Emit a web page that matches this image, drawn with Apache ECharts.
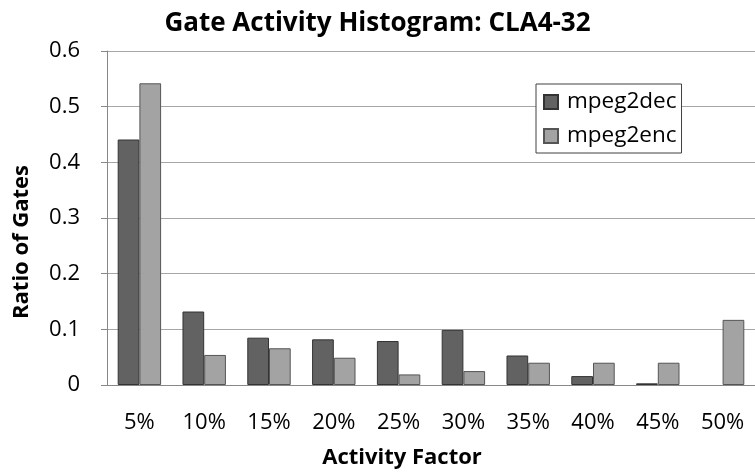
<!DOCTYPE html>
<html>
<head>
<meta charset="utf-8">
<script src="https://cdn.jsdelivr.net/npm/echarts@6/dist/echarts.min.js"></script>
<style>
  html, body { margin: 0; padding: 0; background: #fff; }
  #chart { width: 755px; height: 474px; }
</style>
</head>
<body>
<div id="chart"></div>
<script>
// data
const categories = ['5%', '10%', '15%', '20%', '25%', '30%', '35%', '40%', '45%', '50%'];
const mpeg2dec = [0.441, 0.132, 0.085, 0.082, 0.079, 0.099, 0.053, 0.016, 0.003, '-'];
const mpeg2enc = [0.542, 0.054, 0.066, 0.049, 0.019, 0.025, 0.040, 0.040, 0.040, 0.117];
const yTicks = [0, 0.1, 0.2, 0.3, 0.4, 0.5, 0.6];

const FONT = 'Open Sans';

let myChart = echarts.init(document.getElementById('chart'));

let option = {
    animation: false,
    backgroundColor: '#fff',
    textStyle: { fontFamily: FONT },
    title: {
        text: 'Gate Activity Histogram: CLA4-32',
        left: 'center',
        top: 6,
        textStyle: { fontFamily: FONT, fontSize: 26, fontWeight: 'bold', color: '#000' }
    },
    legend: {
        orient: 'vertical',
        left: 536,
        top: 84,
        padding: [6, 5, 5, 7],
        backgroundColor: '#fff',
        borderColor: '#404040',
        borderWidth: 1,
        icon: 'rect',
        itemWidth: 14,
        itemHeight: 14,
        itemGap: 10,
        textStyle: { fontFamily: FONT, fontSize: 22.5, color: '#000', lineHeight: 24, padding: [0, 0, 0, 4] },
        data: ['mpeg2dec', 'mpeg2enc']
    },
    grid: {
        left: 107,
        right: 0,
        top: 51,
        bottom: 88,
        containLabel: false
    },
    xAxis: {
        type: 'category',
        data: categories,
        name: 'Activity Factor',
        nameLocation: 'middle',
        nameGap: 62,
        nameTextStyle: { fontFamily: FONT, fontSize: 22, fontWeight: 'bold', color: '#000', padding: [0, 58, 0, 0] },
        axisLine: { lineStyle: { color: '#888', width: 1 } },
        axisTick: { show: false },
        axisLabel: { fontFamily: FONT, fontSize: 22, color: '#000', margin: 27 }
    },
    yAxis: {
        type: 'value',
        min: yTicks[0],
        max: yTicks[yTicks.length - 1],
        interval: 0.1,
        name: 'Ratio of Gates',
        nameLocation: 'middle',
        nameGap: 74,
        nameTextStyle: { fontFamily: FONT, fontSize: 22, fontWeight: 'bold', color: '#000', padding: [0, 48, 0, 0] },
        axisLine: { show: true, lineStyle: { color: '#888', width: 1 } },
        axisTick: { show: true, length: 6, inside: false, lineStyle: { color: '#888' } },
        axisLabel: {
            fontFamily: FONT, fontSize: 22, color: '#000', margin: 27,
            formatter: function (v) { return v === 0 ? '0' : v.toFixed(1); }
        },
        splitLine: { show: true, lineStyle: { color: '#a6a6a6', width: 1 } }
    },
    series: [
        {
            name: 'mpeg2dec',
            type: 'bar',
            barGap: '0%',
            barCategoryGap: '33%',
            itemStyle: { color: '#626262', borderColor: '#333', borderWidth: 1 },
            data: mpeg2dec
        },
        {
            name: 'mpeg2enc',
            type: 'bar',
            barGap: '0%',
            barCategoryGap: '33%',
            itemStyle: { color: '#a3a3a3', borderColor: '#555', borderWidth: 1 },
            data: mpeg2enc
        }
    ]
};

myChart.setOption(option);
</script>
</body>
</html>
